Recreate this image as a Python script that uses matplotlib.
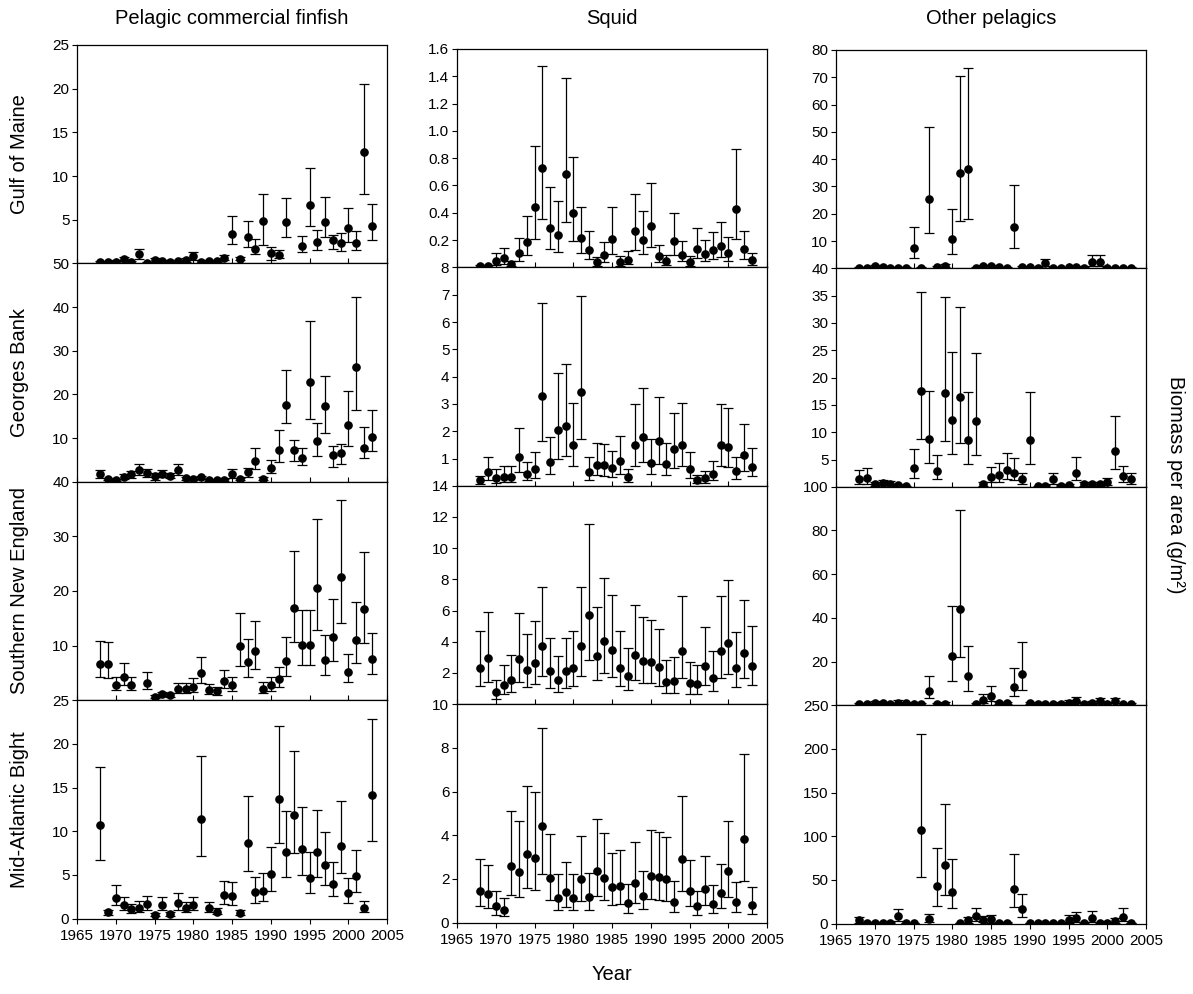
import matplotlib
matplotlib.use("Agg")
import matplotlib.pyplot as plt
import numpy as np

plt.rcParams['font.family'] = ['Liberation Sans', 'DejaVu Sans']

nan = float('nan')
years = list(range(1968, 2004))

# Pelagic commercial finfish
fin_gom = [0.15, 0.15, 0.2, 0.45, 0.15, 1.1, 0.1, 0.4, 0.25, 0.2, 0.25, 0.4, 0.85, 0.2, 0.25, 0.25, 0.65, 3.4,
           0.55, 3.0, 1.7, 4.9, 1.15, 1.0, 4.7, nan, 2.0, 6.7, 2.4, 4.7, 2.7, 2.3, 4.0, 2.35, 12.7, 4.25]
fin_gom_lo = [0.08, 0.08, 0.1, 0.25, 0.08, 0.5, 0.05, 0.2, 0.12, 0.1, 0.12, 0.2, 0.4, 0.1, 0.12, 0.12, 0.4, 2.2,
              0.35, 1.9, 1.1, 2.1, 0.4, 0.6, 3.0, nan, 1.3, 4.3, 1.5, 3.0, 1.7, 1.4, 2.5, 1.5, 8.0, 2.7]
fin_gom_hi = [0.25, 0.25, 0.35, 0.7, 0.25, 1.7, 0.2, 0.65, 0.4, 0.35, 0.4, 0.65, 1.3, 0.35, 0.4, 0.4, 0.95, 5.4,
              0.75, 4.8, 2.8, 8.0, 1.9, 1.55, 7.5, nan, 3.1, 10.9, 3.8, 7.6, 3.3, 3.5, 6.3, 3.7, 20.5, 6.8]

fin_gb = [1.85, 0.6, 0.45, 1.2, 1.7, 2.75, 2.0, 1.4, 1.85, 1.4, 2.75, 0.85, 0.7, 1.0, 0.45, 0.45, 0.45, 1.85,
          0.6, 2.3, 4.75, 0.75, 3.1, 7.3, 17.5, 7.2, 5.35, 22.8, 9.25, 17.3, 6.2, 6.6, 12.9, 26.3, 7.7, 10.2]
fin_gb_lo = [0.85, 0.35, 0.25, 0.7, 0.85, 1.6, 1.1, 0.5, 1.1, 0.8, 1.6, 0.5, 0.4, 0.6, 0.25, 0.25, 0.25, 0.85,
             0.35, 1.1, 2.9, 0.4, 2.0, 4.6, 13.5, 4.7, 3.9, 14.4, 5.8, 11.2, 3.5, 4.1, 8.1, 16.5, 5.4, 7.0]
fin_gb_hi = [2.75, 0.9, 0.7, 1.7, 2.4, 4.05, 2.9, 2.0, 2.75, 2.0, 4.05, 1.2, 1.0, 1.4, 0.7, 0.7, 0.7, 3.0,
             0.9, 3.1, 7.7, 1.1, 4.9, 11.8, 25.5, 9.6, 7.7, 36.8, 13.5, 24.2, 8.1, 8.6, 20.9, 42.4, 12.5, 16.5]

fin_sne = [6.7, 6.6, 2.7, 4.3, 2.7, nan, 3.2, 0.6, 1.1, 1.0, 2.0, 2.0, 2.5, 5.0, 1.8, 1.65, 3.5, 2.7,
           10.0, 7.0, 9.0, 2.05, 2.7, 3.8, 7.2, 16.9, 10.2, 10.2, 20.5, 7.35, 11.5, 22.6, 5.2, 11.1, 16.7, 7.6]
fin_sne_lo = [4.2, 4.1, 1.8, 2.8, 1.8, nan, 2.0, 0.35, 0.7, 0.65, 1.3, 1.3, 1.5, 3.2, 1.15, 1.0, 2.25, 1.6,
              6.3, 4.3, 5.65, 1.3, 1.7, 2.4, 4.4, 10.6, 6.4, 6.4, 12.8, 4.6, 7.2, 14.2, 3.3, 6.9, 10.5, 4.8]
fin_sne_hi = [10.8, 10.6, 4.3, 6.9, 4.3, nan, 5.1, 0.9, 1.5, 1.4, 3.1, 3.1, 4.0, 8.0, 2.9, 2.5, 5.5, 4.2,
              16.0, 11.2, 14.5, 3.3, 4.3, 6.0, 11.6, 27.3, 16.5, 16.5, 33.2, 11.9, 18.6, 36.7, 8.4, 18.0, 27.1, 12.3]

fin_mab = [10.7, 0.7, 2.4, 1.5, 1.05, 1.25, 1.65, 0.4, 1.5, 0.5, 1.8, 1.2, 1.5, 11.45, 1.25, 0.8, 2.7, 2.55,
           0.65, 8.6, 3.0, 3.2, 5.1, 13.7, 7.6, 11.9, 8.0, 4.7, 7.65, 6.1, 4.0, 8.35, 2.9, 4.85, 1.2, 14.1]
fin_mab_lo = [6.7, 0.45, 1.5, 0.95, 0.65, 0.75, 0.95, 0.25, 0.95, 0.3, 1.0, 0.75, 0.95, 7.2, 0.75, 0.5, 1.65, 1.6,
              0.4, 5.4, 1.8, 2.0, 3.2, 8.6, 4.8, 7.5, 5.0, 2.95, 4.8, 3.8, 2.55, 5.25, 1.8, 3.05, 0.75, 8.9]
fin_mab_hi = [17.3, 1.0, 3.9, 2.5, 1.7, 2.0, 2.6, 0.6, 2.5, 0.75, 2.9, 1.9, 2.5, 18.6, 1.95, 1.2, 4.3, 4.15,
              0.95, 14.0, 4.8, 5.2, 8.2, 22.1, 12.3, 19.2, 12.8, 7.6, 12.4, 9.95, 6.5, 13.5, 4.6, 7.85, 2.0, 22.9]

# Squid
sq_gom = [0.012, 0.01, 0.05, 0.068, 0.024, 0.105, 0.185, 0.44, 0.725, 0.29, 0.24, 0.685, 0.40, 0.217, 0.13, 0.037,
          0.09, 0.21, 0.037, 0.056, 0.266, 0.2, 0.3, 0.08, 0.044, 0.197, 0.093, 0.037, 0.137, 0.098, 0.13, 0.16,
          0.107, 0.427, 0.132, 0.051]
sq_gom_lo = [0.005, 0.004, 0.017, 0.027, 0.008, 0.05, 0.088, 0.21, 0.355, 0.137, 0.115, 0.33, 0.195, 0.105, 0.063,
             0.012, 0.041, 0.1, 0.012, 0.024, 0.127, 0.098, 0.146, 0.037, 0.017, 0.093, 0.044, 0.007, 0.066, 0.044,
             0.061, 0.078, 0.049, 0.207, 0.061, 0.017]
sq_gom_hi = [0.02, 0.018, 0.105, 0.14, 0.05, 0.215, 0.38, 0.89, 1.475, 0.59, 0.49, 1.39, 0.81, 0.44, 0.27, 0.078,
             0.185, 0.44, 0.085, 0.12, 0.54, 0.415, 0.615, 0.163, 0.09, 0.4, 0.195, 0.085, 0.285, 0.2, 0.263, 0.33,
             0.22, 0.866, 0.27, 0.105]

sq_gb = [0.2, 0.51, 0.3, 0.34, 0.34, 1.04, 0.43, 0.61, 3.3, 0.88, 2.04, 2.19, 1.49, 3.43, 0.51, 0.78, 0.76, 0.64,
         0.9, 0.33, 1.49, 1.77, 0.84, 1.63, 0.79, 1.33, 1.5, 0.6, 0.21, 0.28, 0.45, 1.49, 1.41, 0.54, 1.12, 0.7]
sq_gb_lo = [0.05, 0.23, 0.12, 0.15, 0.15, 0.51, 0.21, 0.29, 1.64, 0.43, 1.0, 1.08, 0.73, 1.71, 0.23, 0.38, 0.37,
            0.31, 0.45, 0.15, 0.73, 0.88, 0.42, 0.8, 0.38, 0.66, 0.73, 0.29, 0.086, 0.12, 0.23, 0.73, 0.7, 0.26,
            0.55, 0.35]
sq_gb_hi = [0.37, 1.04, 0.61, 0.72, 0.72, 2.13, 0.88, 1.25, 6.69, 1.8, 4.14, 4.45, 3.04, 6.97, 1.04, 1.58, 1.52,
            1.28, 1.83, 0.62, 3.0, 3.6, 1.7, 3.26, 1.58, 2.68, 3.04, 1.22, 0.39, 0.53, 0.92, 2.98, 2.86, 1.06,
            2.25, 1.4]

sq_sne = [2.35, 2.93, 0.77, 1.26, 1.58, 2.9, 2.22, 2.63, 3.74, 2.12, 1.56, 2.12, 2.33, 3.74, 5.7, 3.1, 4.02, 3.48,
          2.33, 1.8, 3.16, 2.78, 2.69, 2.37, 1.43, 1.5, 3.44, 1.37, 1.28, 2.48, 1.71, 3.44, 3.91, 2.31, 3.31, 2.48]
sq_sne_lo = [1.15, 1.45, 0.36, 0.64, 0.77, 1.43, 1.09, 1.3, 1.82, 1.05, 0.77, 1.05, 1.15, 1.82, 2.82, 1.52, 1.99,
             1.73, 1.15, 0.88, 1.56, 1.39, 1.35, 1.18, 0.73, 0.75, 1.71, 0.68, 0.64, 1.22, 0.83, 1.71, 1.92, 1.13,
             1.65, 1.22]
sq_sne_hi = [4.7, 5.9, 1.54, 2.54, 3.14, 5.85, 4.49, 5.32, 7.52, 4.27, 3.12, 4.27, 4.72, 7.54, 11.54, 6.24, 8.1,
             7.03, 4.7, 3.6, 6.39, 5.6, 5.38, 4.79, 2.84, 3.0, 6.94, 2.71, 2.54, 4.98, 3.42, 6.94, 7.95, 4.64,
             6.71, 5.0]

sq_mab = [1.46, 1.31, 0.75, 0.59, 2.57, 2.31, 3.12, 2.98, 4.43, 2.04, 1.11, 1.39, 1.11, 1.99, 1.16, 2.37, 2.04,
          1.63, 1.66, 0.9, 1.81, 1.2, 2.12, 2.07, 1.99, 0.96, 2.91, 1.43, 0.75, 1.54, 0.87, 1.35, 2.34, 0.94,
          3.84, 0.82]
sq_mab_lo = [0.75, 0.67, 0.37, 0.32, 1.28, 1.17, 1.58, 1.49, 2.22, 1.02, 0.56, 0.72, 0.56, 1.0, 0.59, 1.2, 1.02,
             0.82, 0.84, 0.44, 0.9, 0.61, 1.07, 1.05, 0.97, 0.49, 1.43, 0.75, 0.37, 0.79, 0.44, 0.67, 1.17, 0.47,
             1.9, 0.41]
sq_mab_hi = [2.9, 2.62, 1.43, 1.13, 5.11, 4.63, 6.26, 5.97, 8.92, 4.05, 2.22, 2.77, 2.22, 3.97, 2.27, 4.73, 4.09,
             3.2, 3.33, 1.78, 3.67, 2.34, 4.22, 4.14, 3.94, 1.89, 5.81, 2.88, 1.46, 3.07, 1.7, 2.68, 4.67, 1.86,
             7.7, 1.63]

# Other pelagics
oth_gom = [0.25, 0.25, 0.7, 0.5, 0.25, 0.25, 0.25, 7.6, 0.25, 25.6, 0.6, 1.0, 10.9, 34.9, 36.3, 0.25, 0.7, 0.7,
           0.35, 0.25, 15.0, 0.6, 0.35, 0.25, 1.95, 0.25, 0.25, 0.35, 0.5, 0.25, 2.4, 2.4, 0.25, 0.25, 0.25, 0.25]
oth_gom_lo = [0.1, 0.1, 0.3, 0.2, 0.1, 0.1, 0.1, 3.7, 0.1, 12.8, 0.25, 0.5, 5.4, 17.3, 18.0, 0.1, 0.3, 0.3,
              0.15, 0.1, 7.4, 0.25, 0.15, 0.1, 0.7, 0.1, 0.1, 0.15, 0.2, 0.1, 0.7, 0.7, 0.1, 0.1, 0.1, 0.1]
oth_gom_hi = [0.45, 0.45, 1.2, 0.9, 0.45, 0.45, 0.45, 15.2, 0.45, 51.7, 1.0, 1.6, 21.8, 70.5, 73.3, 0.45, 1.2, 1.2,
              0.6, 0.45, 30.4, 1.0, 0.6, 0.45, 3.5, 0.45, 0.45, 0.6, 0.9, 0.45, 4.75, 5.0, 0.45, 0.45, 0.45, 0.45]

oth_gb = [1.5, 1.7, 0.45, 0.75, 0.6, 0.3, 0.1, 3.5, 17.6, 8.75, 2.9, 17.25, 12.2, 16.4, 8.55, 12.1, 0.45, 1.85,
          2.25, 3.05, 2.6, 1.35, 8.55, 0.1, 0.2, 1.35, 0.2, 0.35, 2.6, 0.45, 0.45, 0.5, 0.8, 6.55, 2.0, 1.35]
oth_gb_lo = [0.6, 0.6, 0.2, 0.25, 0.25, 0.1, 0.05, 1.65, 8.75, 4.3, 1.35, 8.45, 6.0, 8.1, 4.15, 5.9, 0.2, 0.8,
             0.9, 1.4, 1.2, 0.6, 4.15, 0.05, 0.1, 0.6, 0.1, 0.15, 1.2, 0.2, 0.2, 0.2, 0.25, 3.2, 0.9, 0.6]
oth_gb_hi = [3.05, 3.5, 0.8, 1.25, 1.0, 0.5, 0.2, 6.85, 35.7, 17.6, 5.75, 34.7, 24.6, 32.9, 17.3, 24.5, 0.8, 3.7,
             4.4, 6.1, 5.3, 2.45, 17.3, 0.2, 0.35, 2.6, 0.35, 0.6, 5.4, 0.8, 0.8, 0.9, 1.7, 13.0, 3.85, 2.6]

oth_sne = [0.5, 0.6, 1.0, 0.9, 0.6, 1.2, 0.9, 0.6, 0.6, 6.7, 0.45, 0.75, 22.6, 44.1, 13.4, 0.45, 2.6, 4.4,
           0.9, 0.9, 8.55, 14.5, 0.9, 0.6, 0.6, 0.45, 0.75, 1.2, 2.1, 0.75, 1.05, 2.1, 0.75, 2.1, 0.6, 0.6]
oth_sne_lo = [0.2, 0.25, 0.5, 0.4, 0.25, 0.5, 0.4, 0.25, 0.25, 3.2, 0.2, 0.3, 11.1, 22.0, 6.6, 0.2, 0.9, 2.1,
              0.4, 0.4, 4.3, 7.0, 0.4, 0.25, 0.25, 0.2, 0.3, 0.5, 0.9, 0.3, 0.45, 0.9, 0.3, 0.9, 0.25, 0.25]
oth_sne_hi = [0.9, 1.1, 1.8, 1.6, 1.1, 2.2, 1.6, 1.1, 1.1, 13.4, 0.8, 1.4, 45.5, 89.2, 27.1, 0.8, 5.0, 8.9,
              1.6, 1.6, 17.25, 28.9, 1.6, 1.1, 1.1, 0.8, 1.4, 2.2, 3.8, 1.4, 1.9, 3.5, 1.4, 3.5, 1.1, 1.1]

oth_mab = [3.8, 0.8, 0.8, 0.8, 0.8, 8.4, 0.4, 0.4, 107, 5.7, 42.8, 67, 36.3, 0.4, 3.8, 8.8, 4.6, 5.7,
           1.1, 1.1, 39.4, 16.5, 0.4, 0.4, 0.8, 0.8, 0.8, 4.6, 6.9, 0.8, 6.9, 0.8, 1.1, 3.4, 7.7, 0.4]
oth_mab_lo = [0.8, 0.3, 0.3, 0.3, 0.3, 3.1, 0.15, 0.15, 52.8, 1.9, 20.7, 33.3, 18.0, 0.15, 1.2, 3.1, 1.6, 1.1,
              0.4, 0.4, 19.1, 7.7, 0.15, 0.15, 0.3, 0.3, 0.3, 1.1, 1.9, 0.3, 1.9, 0.3, 0.4, 1.2, 3.1, 0.15]
oth_mab_hi = [7.7, 1.5, 1.5, 1.5, 1.5, 16.4, 0.8, 0.8, 217, 11.5, 86.8, 137, 73.4, 0.8, 7.5, 18, 8.5, 10.3,
              2.0, 2.0, 79.6, 34.4, 0.8, 0.8, 1.5, 1.5, 1.5, 9.6, 13.0, 1.5, 14.2, 1.5, 2.0, 6.0, 18, 0.8]

col_titles = ["Pelagic commercial finfish", "Squid", "Other pelagics"]
row_labels = ["Gulf of Maine", "Georges Bank", "Southern New England", "Mid-Atlantic Bight"]

panels = [
    [(fin_gom, fin_gom_lo, fin_gom_hi), (sq_gom, sq_gom_lo, sq_gom_hi), (oth_gom, oth_gom_lo, oth_gom_hi)],
    [(fin_gb, fin_gb_lo, fin_gb_hi), (sq_gb, sq_gb_lo, sq_gb_hi), (oth_gb, oth_gb_lo, oth_gb_hi)],
    [(fin_sne, fin_sne_lo, fin_sne_hi), (sq_sne, sq_sne_lo, sq_sne_hi), (oth_sne, oth_sne_lo, oth_sne_hi)],
    [(fin_mab, fin_mab_lo, fin_mab_hi), (sq_mab, sq_mab_lo, sq_mab_hi), (oth_mab, oth_mab_lo, oth_mab_hi)],
]

# y-axis max and tick step per row/column
ymax = [[25, 1.6, 80], [50, 8, 40], [40, 14, 100], [25, 10, 250]]
ystep = [[5, 0.2, 10], [10, 1, 5], [10, 2, 20], [5, 2, 50]]

W, H = 1193, 994
fig = plt.figure(figsize=(W / 100, H / 100), dpi=100)

col_left = [77, 457, 836]
col_top = [45, 49, 50]
col_w = 310
row_h = 218.4

for r in range(4):
    for c in range(3):
        left = col_left[c] / W
        bottom = 1 - (col_top[c] + (r + 1) * row_h) / H
        ax = fig.add_axes([left, bottom, col_w / W, row_h / H])
        vals, lo, hi = panels[r][c]
        y = np.array(vals, dtype=float)
        lo = np.array(lo, dtype=float)
        hi = np.array(hi, dtype=float)
        x = np.array(years)
        ok = ~np.isnan(y)
        ax.errorbar(x[ok], y[ok], yerr=[y[ok] - lo[ok], hi[ok] - y[ok]], fmt='o', color='black',
                    ms=5.2, capsize=3.3, elinewidth=0.9, capthick=0.9)
        ax.set_xlim(1965, 2005)
        ax.set_ylim(0, ymax[r][c])
        st = ystep[r][c]
        start = 0 if r == 3 else st
        ticks = np.arange(start, ymax[r][c] + st / 2, st)
        ax.set_yticks(ticks)
        if c == 1 and r == 0:
            ax.set_yticklabels(["%.1f" % t for t in ticks])
        else:
            ax.set_yticklabels(["%d" % round(t) for t in ticks])
        ax.set_xticks(range(1965, 2006, 5))
        if r == 3:
            ax.tick_params(axis='x', direction='out', length=3.5, width=0.8, labelsize=11, pad=4)
        else:
            ax.tick_params(axis='x', direction='in', length=3.5, width=0.8, labelbottom=False)
        ax.tick_params(axis='y', direction='out', length=3.5, width=0.8, labelsize=11, pad=2)
        for s in ax.spines.values():
            s.set_linewidth(0.9)

for c in range(3):
    xc = (col_left[c] + col_w / 2) / W
    fig.text(xc, 1 - 18 / H, col_titles[c], ha='center', va='center', fontsize=14.5)

for r in range(4):
    yc = 1 - (col_top[0] + (r + 0.5) * row_h) / H
    fig.text(20 / W, yc, row_labels[r], rotation=90, ha='center', va='center', fontsize=14.5)

fig.text((col_left[1] + col_w / 2) / W, 1 - 975 / H, "Year", ha='center', va='center', fontsize=14.5)
fig.text(1176 / W, 1 - 485 / H, "Biomass per area (g/m²)", rotation=270, ha='center', va='center',
         fontsize=14.5)

fig.savefig("out.png", dpi=100)
